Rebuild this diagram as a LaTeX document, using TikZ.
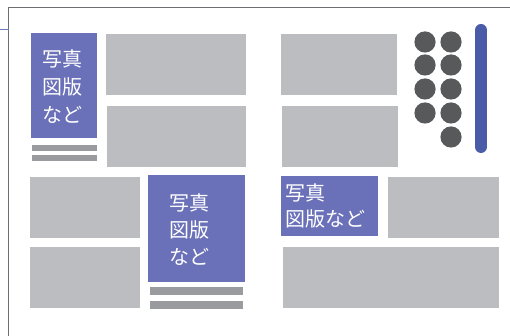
\documentclass[tikz,border=0pt]{standalone}
\usepackage{fontspec}
\newfontfamily\jp{Noto Sans CJK JP}
\definecolor{photoblue}{HTML}{6A71B8}
\definecolor{boxgray}{HTML}{BCBDC1}
\definecolor{bargray}{HTML}{9A9B9F}
\definecolor{dotgray}{HTML}{58595B}
\definecolor{scrollblue}{HTML}{4A5BA8}
\definecolor{framegray}{HTML}{6D6E71}
\tikzset{
  photo/.style={fill=photoblue},
  block/.style={fill=boxgray},
  capbar/.style={fill=bargray},
  dot/.style={fill=dotgray},
  phototext/.style={text=white, inner sep=0pt, font=\jp\fontsize{20}{28}\selectfont}
}
\begin{document}
\begin{tikzpicture}[x=1pt,y=-1pt]
\useasboundingbox (0,0) rectangle (510,336);
% frame
\draw[framegray, line width=1.2pt] (8.5,336) -- (8.5,7.5) -- (510,7.5);
\draw[scrollblue!80, line width=0.8pt] (0,29) -- (8.5,29);
% top-left photo box
\fill[photo] (31,33) rectangle (97,138);
\node[phototext, align=center] (t1) at (62.5,87) {写真\\図版\\など};
\fill[capbar] (32,145) rectangle (97,151);
\fill[capbar] (32,155) rectangle (97,161);
% gray blocks top
\fill[block] (106,34) rectangle (246,95);
\fill[block] (107,106) rectangle (246,167);
\fill[block] (281,34) rectangle (397,95);
\fill[block] (282,106) rectangle (398,167);
% dots
\foreach \y in {42,65,89,113} {\fill[dot] (425,\y) circle (10.6);}
\foreach \y in {42,65,89,113,137} {\fill[dot] (451,\y) circle (10.6);}
% scroll bar
\draw[scrollblue, line width=12pt, line cap=round] (481,30) -- (481,147);
% bottom left
\fill[block] (30,177) rectangle (140,238);
\fill[block] (30,247) rectangle (140,308);
\fill[photo] (148,175) rectangle (245,282);
\node[phototext, align=center, font=\jp\fontsize{20}{27}\selectfont] (t2) at (189,230) {写真\\図版\\など};
\fill[capbar] (150,287) rectangle (243,295);
\fill[capbar] (150,301) rectangle (243,309);
% bottom right
\fill[photo] (281,176) rectangle (378,236);
\node[phototext, align=left, anchor=west, font=\jp\fontsize{20}{26.5}\selectfont] (t3) at (285.5,206) {写真\\図版など};
\fill[block] (388,177) rectangle (499,238);
\fill[block] (283,247) rectangle (499,308);
\end{tikzpicture}
\end{document}
